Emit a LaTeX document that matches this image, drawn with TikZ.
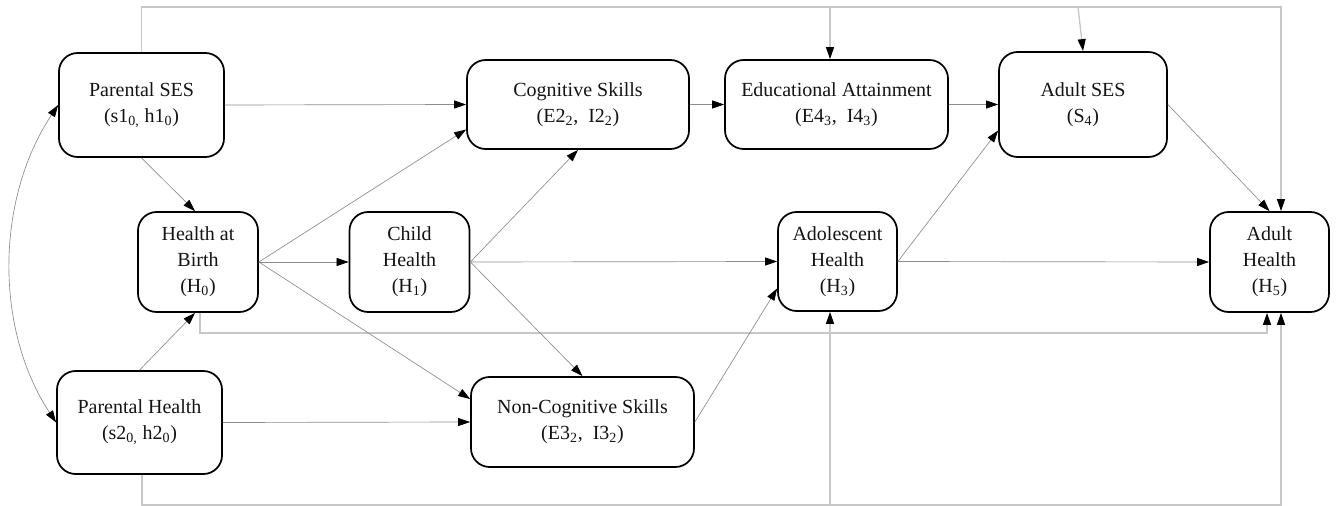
\documentclass[tikz,border=0pt]{standalone}
\usepackage{fontspec}
\setmainfont{Liberation Serif}
\usetikzlibrary{arrows.meta,calc}
\begin{document}
\begin{tikzpicture}[x=0.75pt,y=-0.75pt,
  box/.style={draw=black, line width=1.3pt, rounded corners=14pt, align=center, inner sep=0pt,
    font=\fontsize{15}{19.5}\selectfont, text=black!92, fill=white},
  sz/.style 2 args={minimum width=#1*0.75pt, minimum height=#2*0.75pt},
  tip/.style={-{Triangle[length=9pt,width=6pt,color=black]}},
  conn/.style={tip, draw=black!45, line width=0.5pt},
  route/.style={tip, draw=black!22, line width=1pt},
]
\useasboundingbox (0,0) rectangle (1339,506);
% nodes
\node[box, sz={165}{104}] (pses) at (141.5,105) {Parental SES\\(s1\textsubscript{0,} h1\textsubscript{0})};
\node[box, sz={120}{100}] (hb) at (198,262) {Health at\\Birth\\(H\textsubscript{0})};
\node[box, sz={165}{103}] (ph) at (139.5,422.5) {Parental Health\\(s2\textsubscript{0,} h2\textsubscript{0})};
\node[box, sz={120}{100}] (ch) at (409.5,262) {Child\\Health\\(H\textsubscript{1})};
\node[box, sz={222}{89}] (cog) at (578,104.5) {Cognitive Skills\\(E2\textsubscript{2}, \ I2\textsubscript{2})};
\node[box, sz={223}{89}] (edu) at (836.5,104.5) {Educational Attainment\\(E4\textsubscript{3}, \ I4\textsubscript{3})};
\node[box, sz={168}{105}] (ases) at (1083,104.5) {Adult SES\\(S\textsubscript{4})};
\node[box, sz={119}{99}] (adol) at (837.5,261.5) {Adolescent\\Health\\(H\textsubscript{3})};
\node[box, sz={119}{100}] (ah) at (1269.5,262) {Adult\\Health\\(H\textsubscript{5})};
\node[box, sz={223}{90}] (ncog) at (582.5,422) {Non-Cognitive Skills\\(E3\textsubscript{2}, \ I3\textsubscript{2})};
% routing coordinates
\coordinate (tl) at (141.5,7);
\coordinate (tr) at (1281,7);
\coordinate (te) at (830,7);
\coordinate (ts) at (1078,7);
\coordinate (bl) at (142,505);
\coordinate (br) at (1281,505);
\coordinate (ba) at (830,505);
\coordinate (ml) at (200,333);
\coordinate (mr) at (1267,333);
% routing lines
\draw[route] (pses.north) -- (tl) -- (tr) -- ($(ah.north)+(11.5,0)$);
\draw[route] (te) -- ($(edu.north)+(-6.5,0)$);
\draw[route] (ts) -- (ases.north);
\draw[route] ($(ph.south)+(2.5,0)$) -- (bl) -- (br) -- ($(ah.south)+(11.5,0)$);
\draw[route] (ba) -- ($(adol.south)+(-7.5,0)$);
\draw[route] ($(hb.south)+(2,0)$) -- (ml) -- (mr) -- ($(ah.south)+(-2.5,0)$);
% connectors
\draw[conn] (pses.south) -- ($(hb.north)+(-3,0)$);
\draw[conn] (ph.north) -- ($(hb.south)+(-3,0)$);
\draw[conn] (pses.east) -- (cog.west);
\draw[conn] (hb.east) -- ($(cog.west)+(0,25)$);
\draw[conn] (hb.east) -- (ch.west);
\draw[conn] (hb.east) -- ($(ncog.west)+(0,-23)$);
\draw[conn] (ph.east) -- (ncog.west);
\draw[conn] (ch.east) -- (cog.south);
\draw[conn] (ch.east) -- (adol.west);
\draw[conn] (ch.east) -- (ncog.north);
\draw[conn] (ncog.east) -- ($(adol.west)+(0,27)$);
\draw[conn] (cog.east) -- (edu.west);
\draw[conn] (edu.east) -- (ases.west);
\draw[conn] (adol.east) -- ($(ases.west)+(0,26)$);
\draw[conn] (adol.east) -- (ah.west);
\draw[conn] (ases.east) -- (ah.north);
\draw[conn, {Triangle[length=9pt,width=6pt,color=black]}-{Triangle[length=9pt,width=6pt,color=black]}]
  (pses.west) .. controls (-5,200) and (-5,330) .. (ph.west);
\end{tikzpicture}
\end{document}
